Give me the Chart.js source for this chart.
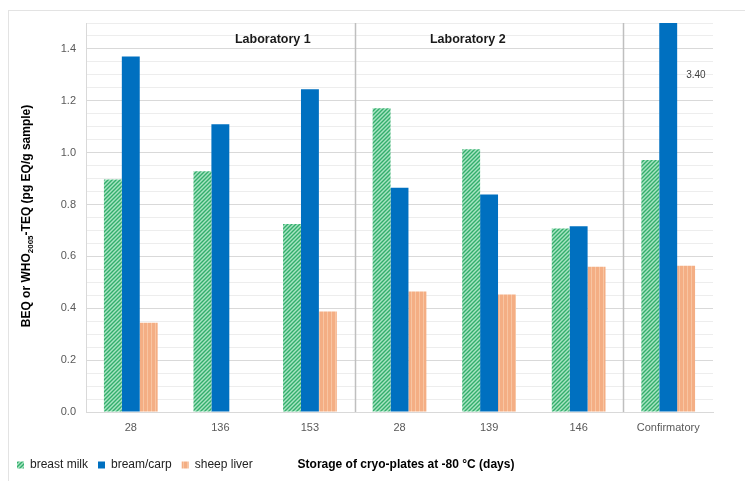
<!DOCTYPE html>
<html>
<head>
<meta charset="utf-8">
<script src="https://cdn.jsdelivr.net/npm/chart.js@4.4.1/dist/chart.umd.min.js"></script>
<style>
  html, body { margin: 0; padding: 0; background: #fff; }
  #wrap { position: relative; width: 745px; height: 481px; }
  #frame { position: absolute; left: 8px; top: 10px; right: 0; bottom: 0;
           border-top: 1px solid #e3e3e3; border-left: 1px solid #e3e3e3; }
</style>
</head>
<body>
<div id="wrap">
  <div id="frame"></div>
  <canvas id="myChart" width="745" height="481"></canvas>
</div>
<script>
// storage time of the cryo-plates (days)
const categories = ['28', '136', '153', '28', '139', '146', 'Confirmatory'];
const breastMilk = [0.897, 0.928, 0.725, 1.171, 1.013, 0.708, 0.972];
const breamCarp  = [1.371, 1.110, 1.245, 0.865, 0.839, 0.716, 3.40];
const sheepLiver = [0.344, null, 0.388, 0.465, 0.453, 0.560, 0.564];
const groupLabels = ['Laboratory 1', 'Laboratory 2'];
const offScaleLabel = '3.40';

const font = "'Liberation Sans', Arial, sans-serif";

// hatch fills
function hatchGreen() {
  const c = document.createElement('canvas');
  c.width = 4; c.height = 4;
  const g = c.getContext('2d');
  g.fillStyle = '#a8e4c2';
  g.fillRect(0, 0, 4, 4);
  g.strokeStyle = '#33ae6c';
  g.lineWidth = 1.4;
  g.beginPath();
  g.moveTo(-1, 5); g.lineTo(5, -1);
  g.moveTo(-1, 1); g.lineTo(1, -1);
  g.moveTo(3, 5); g.lineTo(5, 3);
  g.stroke();
  return g.createPattern(c, 'repeat');
}
function stripeOrange() {
  const c = document.createElement('canvas');
  c.width = 4; c.height = 4;
  const g = c.getContext('2d');
  g.fillStyle = '#f4ae84';
  g.fillRect(0, 0, 4, 4);
  g.fillStyle = '#f8c5a2';
  g.fillRect(3, 0, 1, 4);
  return g.createPattern(c, 'repeat');
}

const ctx = document.getElementById('myChart').getContext('2d');

const extras = {
  id: 'extras',
  beforeDatasetsDraw(chart) {
    const a = chart.chartArea, c = chart.ctx;
    c.save();
    c.strokeStyle = '#bfbfbf';
    c.lineWidth = 1.5;
    [3, 6].forEach(i => {
      const x = Math.round(a.left + (a.right - a.left) * i / categories.length) + 0.5;
      c.beginPath(); c.moveTo(x, a.top); c.lineTo(x, a.bottom); c.stroke();
    });
    c.restore();
  },
  afterDatasetsDraw(chart) {
    const a = chart.chartArea, c = chart.ctx;
    const y = chart.scales.y;
    c.save();
    c.fillStyle = '#1a1a1a';
    c.font = 'bold 12.5px ' + font;
    c.textAlign = 'center';
    c.textBaseline = 'middle';
    const w = a.right - a.left;
    c.fillText(groupLabels[0], a.left + w * 0.298, y.getPixelForValue(1.435));
    c.fillText(groupLabels[1], a.left + w * 0.609, y.getPixelForValue(1.435));

    // value of the bar that runs off the scale
    const bar = chart.getDatasetMeta(1).data[6];
    c.font = '10px ' + font;
    c.fillStyle = '#404040';
    c.textAlign = 'left';
    c.fillText(offScaleLabel, bar.x + bar.width / 2 + 9, y.getPixelForValue(1.3));

    // x title, on the legend line
    c.font = 'bold 12px ' + font;
    c.fillStyle = '#000';
    c.textAlign = 'center';
    c.fillText('Storage of cryo-plates at -80 \u00b0C (days)', 406, 465);

    // y title with subscript
    c.translate(27, 216);
    c.rotate(-Math.PI / 2);
    const p1 = 'BEQ or WHO', sub = '2005', p2 = '-TEQ (pg EQ/g sample)';
    c.font = 'bold 12px ' + font;
    const w1 = c.measureText(p1).width, w3 = c.measureText(p2).width;
    c.font = 'bold 8px ' + font;
    const w2 = c.measureText(sub).width;
    let x0 = -(w1 + w2 + w3) / 2;
    c.textAlign = 'left';
    c.font = 'bold 12px ' + font;
    c.fillText(p1, x0, 0);
    c.font = 'bold 8px ' + font;
    c.fillText(sub, x0 + w1, 4);
    c.font = 'bold 12px ' + font;
    c.fillText(p2, x0 + w1 + w2, 0);
    c.restore();
  }
};

const myChart = new Chart(ctx, {
  type: 'bar',
  data: {
    labels: categories,
    datasets: [
      { label: 'breast milk', data: breastMilk, backgroundColor: hatchGreen(), borderWidth: 0 },
      { label: 'bream/carp', data: breamCarp, backgroundColor: '#0070c0', borderWidth: 0 },
      { label: 'sheep liver', data: sheepLiver, backgroundColor: stripeOrange(), borderWidth: 0 }
    ]
  },
  options: {
    responsive: false,
    animation: false,
    layout: { padding: { top: 23, right: 32, left: 7, bottom: 0 } },
    datasets: { bar: { barPercentage: 1, categoryPercentage: 0.6 } },
    plugins: {
      tooltip: { enabled: false },
      legend: {
        position: 'bottom',
        align: 'start',
        labels: {
          boxWidth: 7, boxHeight: 7, padding: 10,
          color: '#222', font: { family: font, size: 12 }
        }
      }
    },
    scales: {
      x: {
        grid: { display: false, drawTicks: false },
        border: { display: true, color: '#d9d9d9' },
        ticks: { color: '#595959', font: { family: font, size: 11 }, padding: 9 },
        afterFit(s) { s.height = 37; }
      },
      y: {
        min: 0, max: 1.5,
        grid: {
          drawTicks: false,
          color: c => (Math.abs(c.tick.value / 0.2 - Math.round(c.tick.value / 0.2)) < 1e-6 ? '#d9d9d9' : '#ededed')
        },
        border: { display: true, color: '#d9d9d9' },
        ticks: {
          stepSize: 0.05, autoSkip: false, padding: 10,
          color: '#595959', font: { family: font, size: 11 },
          callback: v => (Math.abs(v / 0.2 - Math.round(v / 0.2)) < 1e-6 ? v.toFixed(1) : '')
        },
        afterFit(s) { s.width = 79; }
      }
    }
  },
  plugins: [extras]
});
</script>
</body>
</html>
